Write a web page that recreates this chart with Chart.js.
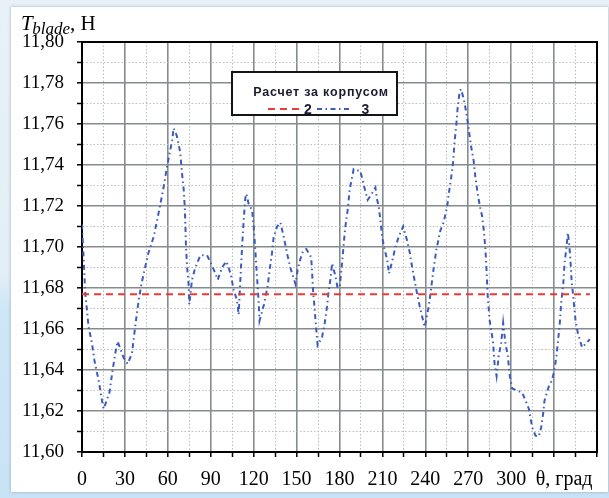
<!DOCTYPE html>
<html>
<head>
<meta charset="utf-8">
<script src="https://cdn.jsdelivr.net/npm/chart.js@4.4.1/dist/chart.umd.min.js"></script>
<style>
html,body{margin:0;padding:0;}
body{width:609px;height:498px;overflow:hidden;position:relative;
  background:linear-gradient(180deg,#e8f1f7 0%,#e3eef6 55%,#cfe6f6 62%,#c8e3f5 100%);}
#panel{position:absolute;left:11px;top:7px;width:597px;height:485px;background:#fff;
  box-shadow:0 0 3px rgba(110,130,150,0.55);}
#c{position:absolute;left:0;top:0;}
</style>
</head>
<body>
<div id="panel"></div>
<canvas id="c" width="609" height="498"></canvas>
<script>
// ---- data ----
const thetaDeg = [0,2.3,3.5,4.6,7.0,8.6,11.6,14.0,15.1,19.2,21.0,23.2,24.9,29.1,31.9,34.9,36.1,37.7,39.6,41.3,43.1,46.4,50.1,52.5,54.8,57.0,59.4,61.3,63.0,64.1,66.4,68.7,69.9,71.1,71.8,72.3,72.7,73.5,74.6,75.0,76.9,79.2,82.8,87.4,90.2,93.3,94.9,97.9,100.9,102.5,104.2,106.0,108.4,109.5,110.7,111.9,113.0,114.2,114.9,116.5,118.9,120.0,121.1,122.3,123.5,124.1,127.2,129.8,131.2,132.8,134.0,136.4,138.7,141.0,143.3,145.6,149.2,150.8,152.6,154.5,156.8,160.2,160.9,161.5,162.7,163.6,164.7,167.8,169.7,171.3,172.5,173.6,174.8,177.1,178.7,180.2,181.8,183.0,184.1,185.7,187.1,188.8,189.9,194.6,197.4,199.7,201.7,205.1,206.3,207.4,208.6,209.8,211.4,213.3,214.6,216.8,219.1,221.4,224.5,227.3,229.2,230.8,232.4,234.3,236.1,237.8,239.6,242.4,243.5,244.8,245.9,247.8,250.5,252.8,255.3,256.4,258.1,259.5,260.4,261.7,262.6,264.0,265.0,266.9,268.8,270.4,272.0,273.8,275.0,276.6,278.1,279.7,280.9,282.0,282.7,283.2,283.6,285.0,286.2,287.4,288.4,289.8,291.3,293.0,294.4,296.0,297.6,299.1,300.7,304.2,307.7,310.1,312.4,314.7,317.0,319.3,321.0,322.4,323.3,326.3,328.6,330.2,331.7,332.6,334.0,335.0,336.4,337.3,338.7,339.6,340.5,341.4,342.2,343.4,345.0,346.6,349.6,355.0];
const tBlade = [11.711,11.6775,11.669,11.661,11.653,11.645,11.635,11.625,11.621,11.629,11.638,11.648,11.654,11.646,11.643,11.648,11.655,11.664,11.674,11.681,11.687,11.697,11.705,11.713,11.721,11.729,11.739,11.746,11.752,11.758,11.754,11.746,11.736,11.728,11.720,11.710,11.700,11.690,11.681,11.672,11.684,11.690,11.696,11.696,11.692,11.687,11.684,11.690,11.693,11.690,11.686,11.679,11.674,11.667,11.684,11.700,11.713,11.724,11.726,11.721,11.718,11.710,11.699,11.686,11.673,11.664,11.672,11.681,11.689,11.697,11.705,11.710,11.712,11.705,11.697,11.690,11.682,11.689,11.694,11.698,11.699,11.695,11.687,11.679,11.669,11.661,11.652,11.656,11.663,11.671,11.679,11.684,11.692,11.686,11.680,11.681,11.692,11.702,11.710,11.718,11.728,11.734,11.738,11.737,11.729,11.723,11.725,11.729,11.723,11.720,11.713,11.705,11.699,11.694,11.687,11.693,11.700,11.705,11.710,11.703,11.697,11.690,11.684,11.677,11.671,11.666,11.661,11.671,11.677,11.684,11.690,11.699,11.708,11.712,11.720,11.726,11.734,11.742,11.751,11.760,11.768,11.776,11.777,11.772,11.765,11.757,11.749,11.742,11.734,11.726,11.720,11.715,11.708,11.699,11.690,11.682,11.676,11.664,11.659,11.653,11.643,11.637,11.647,11.653,11.663,11.653,11.647,11.637,11.631,11.630,11.629,11.625,11.621,11.612,11.608,11.6075,11.612,11.619,11.625,11.632,11.635,11.640,11.647,11.653,11.663,11.673,11.682,11.692,11.700,11.707,11.702,11.694,11.684,11.676,11.664,11.658,11.651,11.655];
const refTheta = [0, 355];
const refValue = [11.677, 11.677];
const seriesNames = ['2', '3'];
const legendTitle = 'Расчет за корпусом';
const yTitleMain = 'T';
const yTitleSub = 'blade';
const yTitleUnit = ', H';
const xUnitLabel = 'θ, град';

const serif = '"Liberation Serif", "Times New Roman", serif';
const isMajorX = v => Math.round(v) % 30 === 0;
const isMajorY = v => Math.round(v * 100) % 2 === 0;

const extras = {
  id: 'extras',
  afterDraw(chart) {
    const ctx = chart.ctx;
    ctx.save();
    // y-axis title
    ctx.fillStyle = '#000';
    ctx.textBaseline = 'alphabetic';
    ctx.textAlign = 'left';
    ctx.font = 'italic 21px ' + serif;
    let x = 21;
    ctx.fillText(yTitleMain, x, 30);
    x += ctx.measureText(yTitleMain).width - 0.5;
    ctx.font = 'italic 17px ' + serif;
    ctx.fillText(yTitleSub, x, 34);
    x += ctx.measureText(yTitleSub).width;
    ctx.font = '21px ' + serif;
    ctx.fillText(yTitleUnit, x, 30);

    // legend box
    const L = 232, T = 72, R = 397, B = 115;
    ctx.fillStyle = '#fff';
    ctx.fillRect(L, T, R - L, B - T);
    ctx.strokeStyle = '#151515';
    ctx.lineWidth = 2;
    ctx.strokeRect(L, T, R - L, B - T);
    ctx.fillStyle = '#1b1b30';
    ctx.font = 'bold 12.5px "Liberation Sans", Arial, sans-serif';
    ctx.textAlign = 'center';
    try { ctx.letterSpacing = '0.8px'; } catch (e) {}
    ctx.fillText(legendTitle, 321, 95.5);
    try { ctx.letterSpacing = '0px'; } catch (e) {}
    const ds = chart.data.datasets;
    ctx.lineWidth = 2;
    ctx.strokeStyle = ds[0].borderColor;
    ctx.setLineDash(ds[0].borderDash);
    ctx.beginPath(); ctx.moveTo(268, 109); ctx.lineTo(303, 109); ctx.stroke();
    ctx.strokeStyle = ds[1].borderColor;
    ctx.setLineDash(ds[1].borderDash);
    ctx.beginPath(); ctx.moveTo(317, 109); ctx.lineTo(350, 109); ctx.stroke();
    ctx.setLineDash([]);
    ctx.font = 'bold 14px "Liberation Sans", Arial, sans-serif';
    ctx.textAlign = 'left';
    ctx.fillStyle = '#1b1b30';
    ctx.fillText(ds[0].label, 304, 113.5);
    ctx.fillText(ds[1].label, 361.5, 113.5);
    ctx.restore();
  }
};

const gridStyle = (isMajor) => ({
  color: c => (c.tick && isMajor(c.tick.value)) ? '#858b8e' : '#bcbcbc',
  lineWidth: c => (c.tick && isMajor(c.tick.value)) ? 1.6 : 1,
  tickColor: '#000',
  tickLength: 5,
  tickWidth: 1.5,
  drawTicks: true
});

new Chart(document.getElementById('c'), {
  type: 'line',
  data: {
    datasets: [
      {
        label: seriesNames[0],
        data: refTheta.map((t, i) => ({x: t, y: refValue[i]})),
        borderColor: '#ec3a36',
        borderWidth: 2,
        borderDash: [7, 5],
        pointRadius: 0,
        tension: 0,
        fill: false
      },
      {
        label: seriesNames[1],
        data: thetaDeg.map((t, i) => ({x: t, y: tBlade[i]})),
        borderColor: '#3c5cbd',
        borderWidth: 2,
        borderDash: [5, 3.5, 1.5, 3.5],
        pointRadius: 0,
        tension: 0,
        fill: false
      }
    ]
  },
  options: {
    responsive: false,
    animation: false,
    devicePixelRatio: 1,
    layout: { padding: { left: 0, top: 42, right: 12, bottom: 0 } },
    plugins: { legend: { display: false }, tooltip: { enabled: false } },
    scales: {
      x: {
        type: 'linear', position: 'bottom', min: 0, max: 360,
        ticks: {
          stepSize: 15, autoSkip: false, maxRotation: 0, minRotation: 0,
          padding: 11, color: '#000', font: { family: serif, size: 20 },
          callback: v => {
            if (v === 330) return '\u00A0\u00A0\u00A0\u00A0' + xUnitLabel;
            if (v === 360) return '';
            return isMajorX(v) ? String(v) : '';
          }
        },
        grid: gridStyle(isMajorX),
        border: { display: true, color: '#000', width: 2,
          dash: c => (c.tick && !isMajorX(c.tick.value)) ? [1.5, 2] : [] },
        afterFit: s => { s.height = 46; }
      },
      x2: {
        type: 'linear', position: 'top', min: 0, max: 360,
        ticks: { display: false }, grid: { display: false, drawTicks: false },
        border: { display: true, color: '#000', width: 2 },
        afterFit: s => { s.height = 0; }
      },
      y: {
        type: 'linear', position: 'left', min: 11.6, max: 11.8,
        ticks: {
          stepSize: 0.01, autoSkip: false, padding: 13, color: '#000',
          font: { family: serif, size: 19 },
          callback: v => isMajorY(v) ? v.toFixed(2).replace('.', ',') : ''
        },
        grid: gridStyle(isMajorY),
        border: { display: true, color: '#000', width: 2,
          dash: c => (c.tick && !isMajorY(c.tick.value)) ? [1.5, 2] : [] },
        afterFit: s => { s.width = 82; }
      },
      y2: {
        type: 'linear', position: 'right', min: 11.6, max: 11.8,
        ticks: { display: false }, grid: { display: false, drawTicks: false },
        border: { display: true, color: '#000', width: 2 },
        afterFit: s => { s.width = 0; }
      }
    }
  },
  plugins: [extras]
});
</script>
</body>
</html>
